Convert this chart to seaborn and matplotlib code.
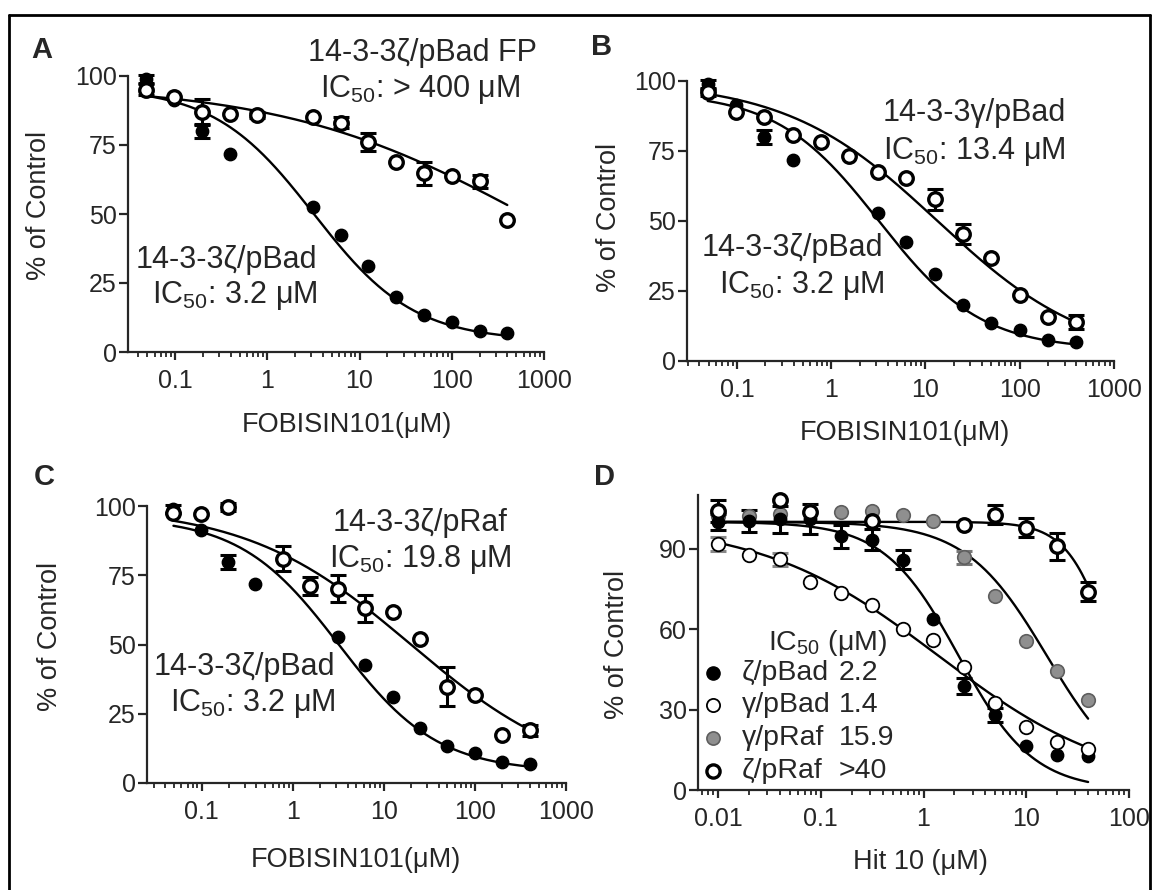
import numpy as np
import pandas as pd
import seaborn as sns
import matplotlib.pyplot as plt
from matplotlib.lines import Line2D
from matplotlib.ticker import FixedLocator, LogLocator, NullFormatter

nan = np.nan

# FOBISIN101 dilution series (uM), panels A-C
fob_conc = [0.049, 0.098, 0.195, 0.39, 0.78, 1.56, 3.125, 6.25, 12.5, 25, 50, 100, 200, 400]

# 14-3-3zeta/pBad, same points shown in A, B and C
zeta_pbad = [98.8, 91.3, 79.9, 71.8, nan, nan, 52.7, 42.5, 31.0, 20.0, 13.5, 11.0, 7.5, 6.9]
zeta_pbad_err = [1.5, 0, 2.5, 0, 0, 0, 0, 0, 0, 0, 0, 0, 0, 0]

# A: 14-3-3zeta/pBad FP
zeta_pbad_fp = [95.0, 92.5, 87.0, 86.2, 85.9, nan, 85.0, 83.1, 76.2, 69.0, 64.8, 63.6, 61.8, 47.9]
zeta_pbad_fp_err = [2.0, 0, 4.5, 0, 1.0, 0, 0, 2.1, 3.3, 0, 4.2, 0, 2.5, 0]

# B: 14-3-3gamma/pBad
gamma_pbad = [96.0, 89.0, 87.0, 80.7, 78.3, 73.2, 67.6, 65.2, 57.7, 45.5, 36.7, 23.6, 15.6, 14.0]
gamma_pbad_err = [1.5, 0, 0, 0, 0, 0, 0, 0, 3.6, 3.6, 0, 0, 0, 2.5]

# C: 14-3-3zeta/pRaf
zeta_praf = [97.5, 97.0, 99.6, nan, 81.0, 71.2, 70.2, 63.0, 61.8, 51.9, 34.8, 31.8, 17.4, 19.0]
zeta_praf_err = [0, 0, 1.5, 0, 4.6, 3.3, 5.0, 4.8, 0, 0, 6.9, 0, 0, 2.1]

# D: Hit 10 dilution series (uM)
hit_conc = [0.01, 0.02, 0.04, 0.078, 0.156, 0.3125, 0.625, 1.25, 2.5, 5, 10, 20, 40]
d_zeta_pbad = [100.0, 100.3, 100.9, 100.9, 94.6, 93.4, 85.9, 63.8, 38.9, 28.0, 16.4, 13.0, 12.5]
d_zeta_pbad_err = [3.0, 4.0, 5.0, 5.6, 4.3, 4.0, 3.5, 0, 3.0, 2.5, 0, 0, 0]
d_gamma_pbad = [91.7, 87.6, 86.0, 77.5, 73.6, 68.9, 60.0, 56.0, 45.7, 32.4, 23.4, 17.8, 15.2]
d_gamma_pbad_err = [2.6, 0, 2.5, 0, 0, 0, 0, 0, 0, 0, 0, 0, 0]
d_gamma_praf = [102.0, 102.0, 103.0, 104.0, 103.5, 104.0, 102.7, 100.3, 86.7, 72.5, 55.7, 44.5, 33.6]
d_gamma_praf_err = [0, 0, 0, 0, 0, 0, 0, 0, 2.5, 0, 0, 0, 0]
d_zeta_praf = [104.0, nan, 108.3, 103.5, nan, 100.3, nan, nan, 99.0, 102.7, 97.8, 90.9, 74.0]
d_zeta_praf_err = [4.0, 0, 0, 0, 0, 0, 0, 0, 0, 3.5, 3.5, 5.0, 3.7]

# fitted dose-response curves: top, bottom, IC50, Hill slope
fit_a_zeta = [96, 4, 3.2, 0.8]
fit_a_fp = [97, 0, 740, 0.32]
fit_b_gamma = [100, 0, 13.4, 0.54]
fit_c_praf = [100, 0, 19.8, 0.48]
fit_d_zeta_pbad = [100, 0, 2.2, 1.2]
fit_d_gamma_pbad = [100, 0, 1.4, 0.5]
fit_d_gamma_praf = [100, 0, 15.9, 1.1]
fit_d_zeta_praf = [100, 0, 71, 2.0]

legend_names = ["\u03b6/pBad", "\u03b3/pBad", "\u03b3/pRaf", "\u03b6/pRaf"]
legend_ic50 = ["2.2", "1.4", "15.9", ">40"]

sns.set_theme(style="ticks")
plt.rcParams["font.family"] = ["Liberation Sans", "DejaVu Sans"]
plt.rcParams["mathtext.fontset"] = "custom"
plt.rcParams["mathtext.rm"] = "Liberation Sans"
plt.rcParams["mathtext.default"] = "regular"

W, H = 1156, 890
fig = plt.figure(figsize=(W / 100, H / 100), dpi=100)

filled = dict(s=80, color="black", edgecolor="black", linewidth=1)
open_thick = dict(s=95, color="white", edgecolor="black", linewidth=2.4)
open_thin = dict(s=95, color="white", edgecolor="black", linewidth=1.3)
grey = dict(s=95, color="#8f8f8f", edgecolor="#5e5e5e", linewidth=1.2)

TICK_SIZE = 18
ANN_SIZE = 22
LABEL_SIZE = 19.5


def px_axes(left, top, right, bottom):
    return fig.add_axes([left / W, 1 - bottom / H, (right - left) / W, (bottom - top) / H])


def ftext(x, y, s, size=ANN_SIZE, **kw):
    fig.text(x / W, 1 - y / H, s, fontsize=size, ha="center", va="center", **kw)


def four_pl(x, p):
    top, bottom, ic50, hill = p
    return bottom + (top - bottom) / (1 + (x / ic50) ** hill)


def draw_fit(ax, p, lo, hi):
    xs = np.logspace(np.log10(lo), np.log10(hi), 300)
    df = pd.DataFrame({"conc": xs, "pct": four_pl(xs, p)})
    sns.lineplot(data=df, x="conc", y="pct", ax=ax, color="black", linewidth=1.7,
                 errorbar=None, zorder=1)


def draw_points(ax, conc, vals, err, style, ecolor="black"):
    df = pd.DataFrame({"conc": conc, "pct": vals, "err": err}).dropna()
    e = df[df["err"] > 0]
    if len(e):
        ax.errorbar(e["conc"], e["pct"], yerr=e["err"], fmt="none", ecolor=ecolor,
                    elinewidth=2.2, capsize=5.5, capthick=2.2, zorder=2)
    sns.scatterplot(data=df, x="conc", y="pct", ax=ax, zorder=3, legend=False, **style)


def style_axes(ax, xlim, decades, labels, yticks, ylim):
    ax.set_xscale("log")
    ax.set_xlim(*xlim)
    ax.set_ylim(*ylim)
    ax.xaxis.set_major_locator(FixedLocator(decades))
    ax.set_xticks(decades, labels)
    ax.xaxis.set_minor_locator(LogLocator(base=10, subs=np.arange(2, 10)))
    ax.xaxis.set_minor_formatter(NullFormatter())
    ax.set_yticks(yticks, [str(t) for t in yticks])
    sns.despine(ax=ax)
    for s in ["left", "bottom"]:
        ax.spines[s].set_linewidth(1.6)
    ax.tick_params(axis="x", which="major", length=6, width=1.6, pad=6, labelsize=TICK_SIZE)
    ax.tick_params(axis="x", which="minor", length=3.5, width=1.3)
    ax.tick_params(axis="y", length=6.5, width=1.6, pad=1.5, labelsize=TICK_SIZE)
    ax.set_xlabel("")
    ax.set_ylabel("")
    for a in ax.collections + ax.lines:
        a.set_clip_on(False)


fob_ticks = [0.1, 1, 10, 100, 1000]
fob_labels = ["0.1", "1", "10", "100", "1000"]

# ---- A
axA = px_axes(128, 76, 544, 352)
draw_fit(axA, fit_a_zeta, 0.049, 400)
draw_fit(axA, fit_a_fp, 0.049, 400)
draw_points(axA, fob_conc, zeta_pbad, zeta_pbad_err, filled)
draw_points(axA, fob_conc, zeta_pbad_fp, zeta_pbad_fp_err, open_thick)
style_axes(axA, (10 ** -1.51, 1000), fob_ticks, fob_labels, [0, 25, 50, 75, 100], (0, 100))

# ---- B
axB = px_axes(687, 81, 1114, 361)
draw_fit(axB, fit_a_zeta, 0.049, 400)
draw_fit(axB, fit_b_gamma, 0.049, 400)
draw_points(axB, fob_conc, zeta_pbad, zeta_pbad_err, filled)
draw_points(axB, fob_conc, gamma_pbad, gamma_pbad_err, open_thick)
style_axes(axB, (10 ** -1.53, 1000), fob_ticks, fob_labels, [0, 25, 50, 75, 100], (0, 100))

# ---- C
axC = px_axes(147, 506, 566, 783)
draw_fit(axC, fit_a_zeta, 0.049, 400)
draw_fit(axC, fit_c_praf, 0.049, 400)
draw_points(axC, fob_conc, zeta_pbad, zeta_pbad_err, filled)
draw_points(axC, fob_conc, zeta_praf, zeta_praf_err, open_thick)
style_axes(axC, (10 ** -1.6, 1000), fob_ticks, fob_labels, [0, 25, 50, 75, 100], (0, 100))

# ---- D
axD = px_axes(698, 495, 1129, 790)
for p in [fit_d_zeta_pbad, fit_d_gamma_pbad, fit_d_gamma_praf, fit_d_zeta_praf]:
    draw_fit(axD, p, 0.01, 40)
draw_points(axD, hit_conc, d_gamma_praf, d_gamma_praf_err, grey, ecolor="#777777")
draw_points(axD, hit_conc, d_zeta_pbad, d_zeta_pbad_err, filled)
draw_points(axD, hit_conc, d_gamma_pbad, d_gamma_pbad_err, open_thin, ecolor="#888888")
draw_points(axD, hit_conc, d_zeta_praf, d_zeta_praf_err, open_thick)
style_axes(axD, (10 ** -2.195, 100), [0.01, 0.1, 1, 10, 100],
           ["0.01", "0.1", "1", "10", "100"], [0, 30, 60, 90], (0, 110))

# legend of panel D
leg_styles = [filled, open_thin, grey, open_thick]
leg_y = [673, 705, 738, 771]
ftext(828, 643, "IC$_{50}$ (\u03bcM)", size=20.5)
for name, val, st, y in zip(legend_names, legend_ic50, leg_styles, leg_y):
    fig.add_artist(Line2D([713 / W], [1 - y / H], marker="o", markersize=9.5,
                          markerfacecolor=st["color"], markeredgecolor=st["edgecolor"],
                          markeredgewidth=st["linewidth"], linestyle="none",
                          transform=fig.transFigure))
    fig.text(742 / W, 1 - y / H, name, fontsize=20.5, ha="left", va="center")
    fig.text(839 / W, 1 - y / H, val, fontsize=20.5, ha="left", va="center")

# panel letters
for letter, x, y in [("A", 42, 50), ("B", 602, 47), ("C", 44, 477), ("D", 604, 477)]:
    ftext(x, y, letter, size=21, fontweight="bold")

# axis labels
for x, y in [(39, 205), (609, 217), (50, 636), (617, 644)]:
    ftext(x, y, "% of Control", size=LABEL_SIZE, rotation=90)
ftext(347, 425, "FOBISIN101(\u03bcM)", size=LABEL_SIZE)
ftext(905, 433, "FOBISIN101(\u03bcM)", size=LABEL_SIZE)
ftext(356, 860, "FOBISIN101(\u03bcM)", size=LABEL_SIZE)
ftext(920, 862, "Hit 10 (\u03bcM)", size=LABEL_SIZE)

# curve annotations
ftext(422, 53, "14-3-3\u03b6/pBad FP")
ftext(420, 89, "IC$_{50}$: > 400 \u03bcM")
ftext(226, 260, "14-3-3\u03b6/pBad")
ftext(235, 296, "IC$_{50}$: 3.2 \u03bcM")
ftext(974, 113, "14-3-3\u03b3/pBad")
ftext(974, 151, "IC$_{50}$: 13.4 \u03bcM")
ftext(792, 248, "14-3-3\u03b6/pBad")
ftext(802, 286, "IC$_{50}$: 3.2 \u03bcM")
ftext(420, 523, "14-3-3\u03b6/pRaf")
ftext(420, 559, "IC$_{50}$: 19.8 \u03bcM")
ftext(244, 667, "14-3-3\u03b6/pBad")
ftext(253, 704, "IC$_{50}$: 3.2 \u03bcM")

# outer frame
for xs, ys in [([9, 1150], [15, 15]), ([9, 9], [15, 890]), ([1150, 1150], [15, 890])]:
    fig.add_artist(Line2D([x / W for x in xs], [1 - y / H for y in ys], color="black",
                          linewidth=2, transform=fig.transFigure))

fig.savefig("out.png", dpi=100)
